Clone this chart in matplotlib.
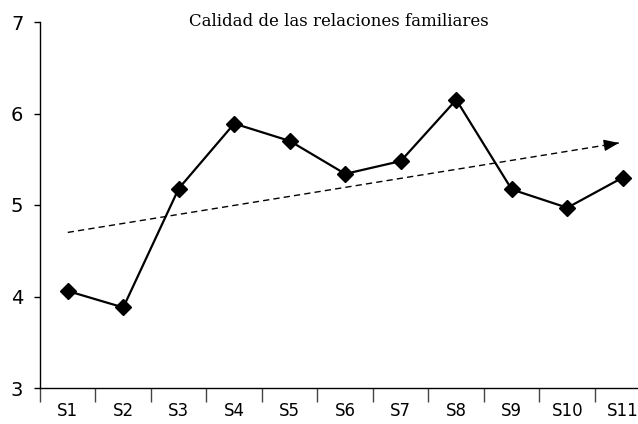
import numpy as np
import matplotlib
matplotlib.use("Agg")
import matplotlib.pyplot as plt

sessions = ["S1", "S2", "S3", "S4", "S5", "S6", "S7", "S8", "S9", "S10", "S11"]
quality = [4.06, 3.88, 5.18, 5.89, 5.70, 5.34, 5.48, 6.15, 5.17, 4.97, 5.30]
title = "Calidad de las relaciones familiares"

x = np.arange(len(sessions))

fig = plt.figure(figsize=(6.38, 4.24), dpi=100)
ax = fig.add_axes([40 / 638, 36 / 424, 1 - 40 / 638, 366 / 424])

ax.plot(x, quality, color="black", lw=1.6, marker="D", markersize=8,
        markerfacecolor="black", markeredgecolor="black", zorder=3)

# linear trend with arrow
slope, intercept = np.polyfit(x, quality, 1)
x0, x1 = x[0], x[-1] - 0.07
ax.plot([x0, x1], [intercept + slope * x0, intercept + slope * x1],
        color="black", lw=1.0, ls=(0, (4.5, 3)))
ax.annotate("", xy=(x1, intercept + slope * x1),
            xytext=(x1 - 0.25, intercept + slope * (x1 - 0.25)),
            arrowprops=dict(arrowstyle="-|>,head_length=0.9,head_width=0.35",
                            color="black", lw=1.0, shrinkA=0, shrinkB=0))

ax.set_ylim(3, 7)
ax.set_xlim(-0.5, -0.5 + 598 / 55.5)
ax.set_yticks([3, 4, 5, 6, 7])
ax.set_xticks(x)
ax.set_xticklabels(sessions)
ax.set_xticks(np.arange(len(sessions)) - 0.5, minor=True)
ax.tick_params(axis="x", which="major", length=0, pad=10, labelsize=12)
ax.tick_params(axis="x", which="minor", length=10, width=1, color="#444444", direction="out")
ax.tick_params(axis="y", length=4, width=1, pad=8, labelsize=14)
for lab in ax.get_xticklabels() + ax.get_yticklabels():
    lab.set_family("DejaVu Sans")

ax.spines["top"].set_visible(False)
ax.spines["right"].set_visible(False)
ax.spines["left"].set_linewidth(1)
ax.spines["bottom"].set_linewidth(1)

ax.text(0.5, 1.0, title, transform=ax.transAxes, ha="center", va="center",
        fontsize=12, family="DejaVu Serif")

fig.savefig("out.png", dpi=100)
